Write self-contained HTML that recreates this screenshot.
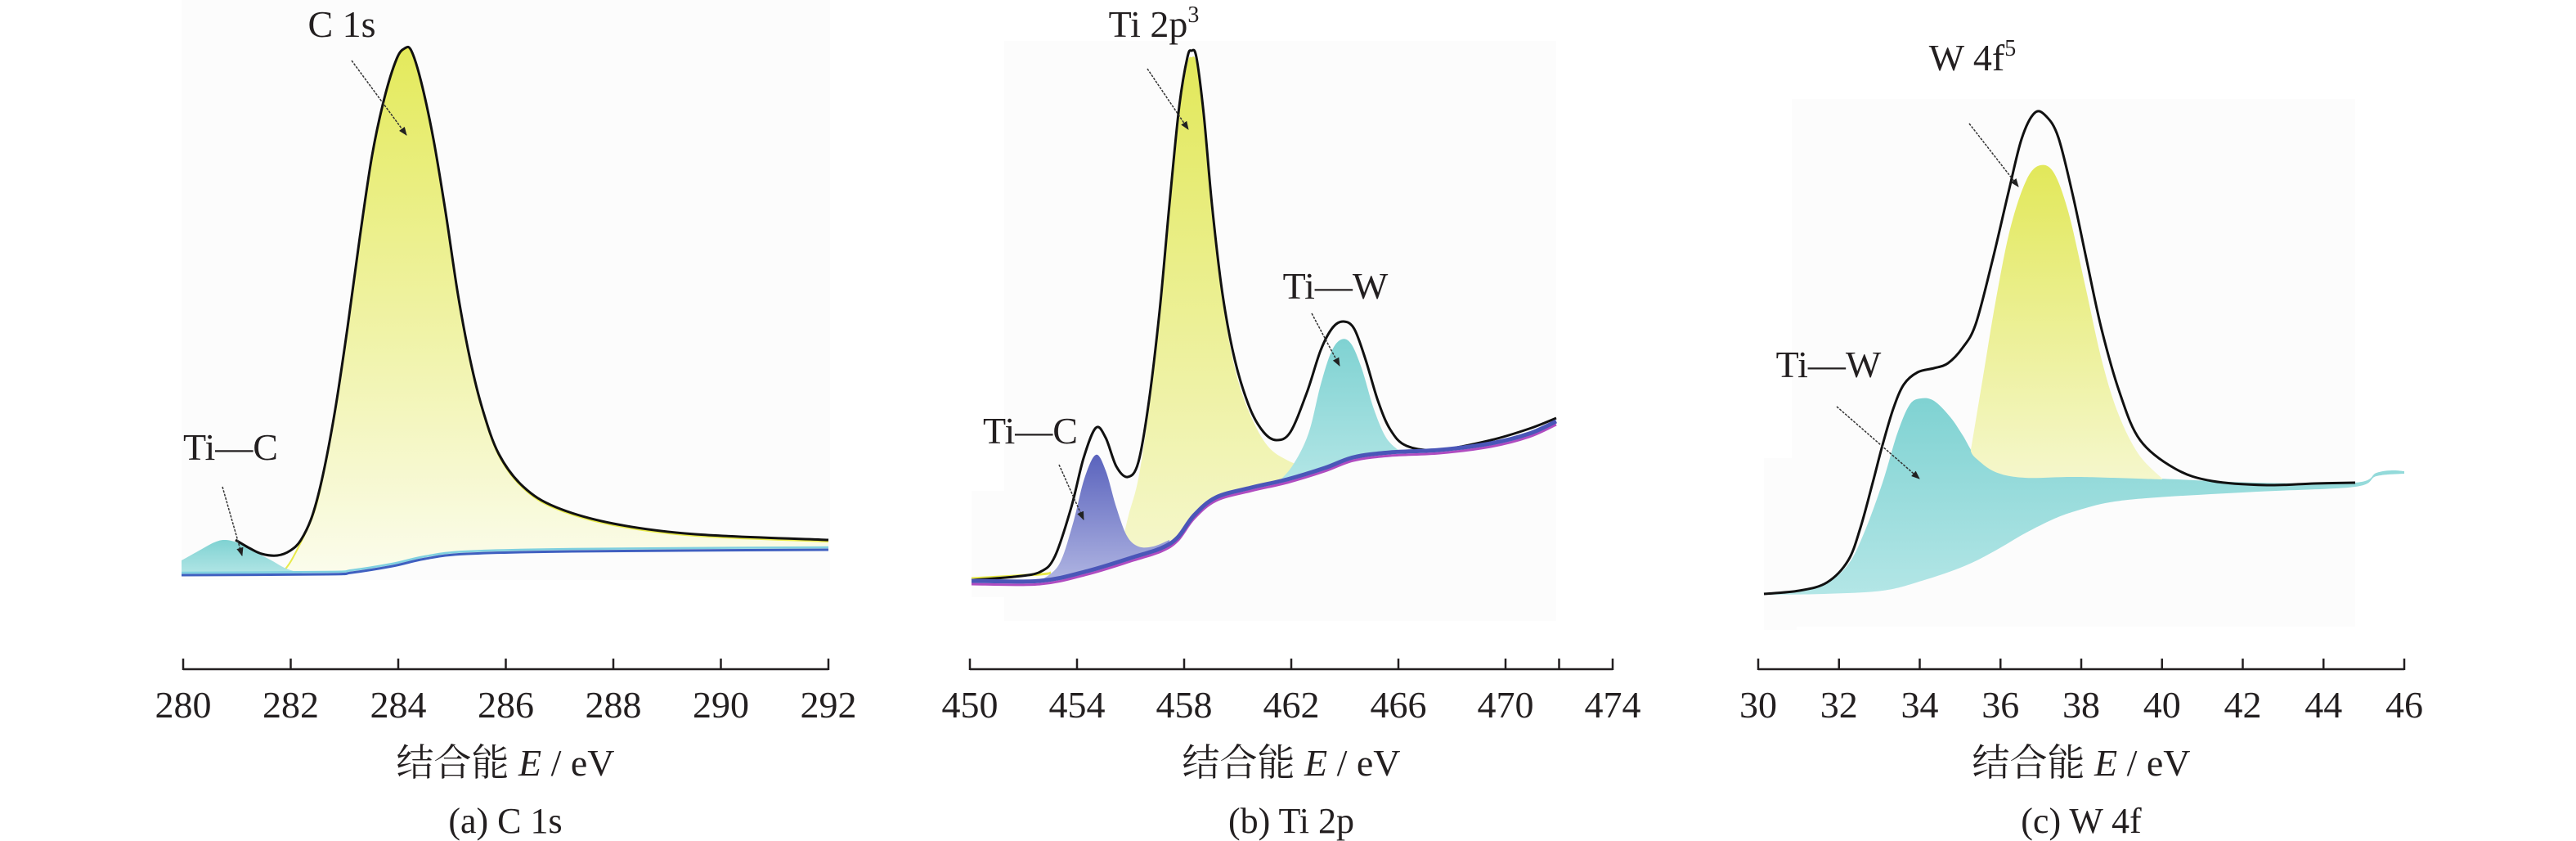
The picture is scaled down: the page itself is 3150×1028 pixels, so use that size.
<!DOCTYPE html>
<html><head><meta charset="utf-8">
<style>
html,body{margin:0;padding:0;background:#fff;}
svg{display:block;}
text{font-family:"Liberation Serif","Noto Serif CJK SC","Noto Sans CJK SC",serif;fill:#231f20;}
</style></head>
<body>
<svg id="s" width="3150" height="1028" viewBox="0 0 3150 1028" xmlns="http://www.w3.org/2000/svg">
<defs>
<linearGradient id="gy" x1="0" y1="0" x2="0" y2="1"><stop offset="0" stop-color="#e4ea5c"/><stop offset="0.55" stop-color="#f0f3a8"/><stop offset="1" stop-color="#fbfcec"/></linearGradient>
<linearGradient id="gy2" x1="0" y1="0" x2="0" y2="1"><stop offset="0" stop-color="#e2e85a"/><stop offset="1" stop-color="#f5f7cc"/></linearGradient>
<linearGradient id="gc" x1="0" y1="0" x2="0" y2="1"><stop offset="0" stop-color="#7fd2d2"/><stop offset="1" stop-color="#b3e6e6"/></linearGradient>
<linearGradient id="gb" x1="0" y1="0" x2="0" y2="1"><stop offset="0" stop-color="#5a63bd"/><stop offset="1" stop-color="#b0b5e2"/></linearGradient>
<marker id="ar" viewBox="0 0 10 10" refX="9" refY="5" markerWidth="7" markerHeight="7" orient="auto"><path d="M0,1 L10,5 L0,9 z" fill="#222"/></marker>
</defs>
<rect x="222" y="0" width="793" height="709" fill="#fcfcfc"/>
<rect x="1228" y="50" width="675" height="709" fill="#fcfcfc"/>
<rect x="1188" y="600" width="60" height="130" fill="#fcfcfc"/>
<rect x="2191" y="121" width="689" height="645" fill="#fcfcfc"/>
<rect x="2157" y="560" width="40" height="210" fill="#fcfcfc"/>
<g id="g"></g>
</svg>
<script>
function cr(p){let d="M"+p[0][0]+","+p[0][1];for(let i=0;i<p.length-1;i++){const p0=p[i-1]||p[i],p1=p[i],p2=p[i+1],p3=p[i+2]||p2;const c1=[p1[0]+(p2[0]-p0[0])/6,p1[1]+(p2[1]-p0[1])/6],c2=[p2[0]-(p3[0]-p1[0])/6,p2[1]-(p3[1]-p1[1])/6];d+=" C"+c1[0].toFixed(1)+","+c1[1].toFixed(1)+" "+c2[0].toFixed(1)+","+c2[1].toFixed(1)+" "+p2[0]+","+p2[1];}return d;}
function area(top,bot){let b=bot.slice().reverse();return cr(top)+" L"+b[0][0]+","+b[0][1]+" "+cr(b).slice(1).replace(/^[^C]*/,"")+" Z";}
let h="";
function path(d,fill,stroke,w){h+='<path d="'+d+'" fill="'+(fill||"none")+'" stroke="'+(stroke||"none")+'" stroke-width="'+(w||0)+'" stroke-linejoin="round"/>';}
function txt(x,y,s,sz,anchor){h+='<text x="'+x+'" y="'+y+'" font-size="'+(sz||46)+'" text-anchor="'+(anchor||"middle")+'">'+s+'</text>';}
function arrow(x1,y1,x2,y2){h+='<line x1="'+x1+'" y1="'+y1+'" x2="'+x2+'" y2="'+y2+'" stroke="#333" stroke-width="1.5" stroke-dasharray="3,1.5" marker-end="url(#ar)"/>';}
function axis(x0,x1,ticks,labels){h+='<line x1="'+x0+'" y1="818" x2="'+x1+'" y2="818" stroke="#231f20" stroke-width="2.5"/>';ticks.forEach(t=>{h+='<line x1="'+t+'" y1="805" x2="'+t+'" y2="819" stroke="#231f20" stroke-width="2.5"/>';});labels.forEach(l=>txt(l[0],877,l[1],46));}
// ---- panel a
let bgA=[[222,703],[400,702],[430,700],[480,692],[520,683],[571,677],[700,674],[1013,672]];
let envA=[[288,660],[305,670],[320,677],[339,679],[355,673],[368,660],[382,630],[395,580],[410,500],[425,400],[440,290],[455,190],[470,120],[485,72],[495,59],[503,62],[515,100],[530,170],[545,260],[560,360],[575,440],[590,500],[610,555],[640,595],[680,620],[750,640],[850,653],[1013,660]];
let yA=[[346,699],[358,682]].concat(envA.slice(6).map(p=>[p[0],p[1]+2]));
path(area(yA,bgA.slice(2)),"url(#gy)");
path(cr(yA),"none","#e8ea4a",2);
let cA=[[222,685],[240,675],[262,663],[276,660],[292,664],[310,674],[330,684],[350,695],[370,701]];
path(area(cA,[[222,703],[300,703],[370,702]]),"url(#gc)");
path(cr(envA),"none","#111",3);
path(cr(bgA.map(p=>[p[0],p[1]-3])),"none","#7fd0e0",2.5);
path(cr(bgA),"none","#3f5fc0",3);
txt(418,45,"C 1s",46);arrow(430,74,497,165);
txt(282,562,"Ti—C",46);arrow(272,595,296,679);
axis(224,1013,[224,355.5,487,618.5,750,881.5,1013],[[224,"280"],[355.5,"282"],[487,"284"],[618.5,"286"],[750,"288"],[881.5,"290"],[1013,"292"]]);
txt(618,948,"结合能 <tspan font-style='italic'>E</tspan> / eV",46);
txt(618,1018,"(a) C 1s",44);
// ---- panel b
let bgB=[[1188,712],[1272,712],[1330,700],[1386,683],[1420,672],[1440,659],[1460,632],[1487,610],[1530,598],[1574,588],[1620,574],[1655,561],[1700,555],[1760,552],[1823,544],[1870,532],[1903,517]];
let envB=[[1188,709],[1240,705],[1272,699],[1290,680],[1310,620],[1325,560],[1340,523],[1352,535],[1365,570],[1379,583],[1392,565],[1405,490],[1418,380],[1430,250],[1442,130],[1452,70],[1457,62],[1463,70],[1472,140],[1482,250],[1495,360],[1510,440],[1528,498],[1545,528],[1561,538],[1578,528],[1598,480],[1615,428],[1630,400],[1643,393],[1656,402],[1670,440],[1685,490],[1700,525],[1720,545],[1760,550],[1823,538],[1870,524],[1903,511]];
let yB=[[1370,672],[1380,630],[1392,585],[1405,500],[1418,390],[1430,260],[1442,140],[1452,78],[1457,70],[1463,78],[1472,148],[1482,258],[1495,368],[1510,450],[1528,505],[1550,545],[1575,563],[1600,572]];
path(area(yB,[[1370,675],[1386,683],[1420,672],[1440,659],[1460,632],[1487,610],[1530,598],[1574,588],[1600,580]]),"url(#gy2)");
path(cr([[1188,707],[1272,702],[1285,700]]),"none","#e8ea4a",3);
let bB=[[1272,710],[1295,690],[1312,640],[1326,585],[1340,556],[1352,575],[1365,620],[1378,655],[1392,668],[1410,668],[1430,660]];
path(area(bB,[[1272,712],[1330,700],[1386,683],[1420,672],[1430,668]]),"url(#gb)");
let cB=[[1560,592],[1580,570],[1600,530],[1615,470],[1628,430],[1640,415],[1652,420],[1665,450],[1680,500],[1695,535],[1712,552]];
path(area(cB,[[1560,592],[1620,574],[1655,561],[1712,554]]),"url(#gc)");
path(cr(envB),"none","#111",3);
path(cr(bgB.map(p=>[p[0],p[1]+2])),"none","#b04cc0",3);
path(cr(bgB.map(p=>[p[0],p[1]-2])),"none","#4a56b8",5);
txt(1411,45,"Ti 2p<tspan font-size='28' dy='-18'>3</tspan>",46);
arrow(1403,84,1453,158);
txt(1633,365,"Ti—W",46);arrow(1604,383,1638,447);
txt(1260,542,"Ti—C",46);arrow(1295,568,1325,635);
axis(1186,1972,[1186,1317,1448,1579,1710,1841,1906.5,1972],[[1186,"450"],[1317,"454"],[1448,"458"],[1579,"462"],[1710,"466"],[1841,"470"],[1972,"474"]]);
txt(1579,948,"结合能 <tspan font-style='italic'>E</tspan> / eV",46);
txt(1579,1018,"(b) Ti 2p",44);
// ---- panel c
let cBot=[[2157,727],[2230,726],[2302,722],[2350,710],[2402,692],[2440,673],[2476,652],[2510,635],[2537,625],[2580,614],[2638,608],[2760,601],[2880,595],[2906,582],[2940,579]];
let cTop=[[2157,726],[2200,722],[2234,712],[2260,690],[2280,650],[2302,590],[2320,530],[2335,495],[2349,487],[2365,490],[2385,510],[2400,532],[2416,558],[2440,576],[2476,583],[2540,582],[2638,585],[2760,590],[2880,590],[2906,578],[2925,575],[2940,576]];
path(area(cTop,cBot),"url(#gc)");
let yC=[[2410,550],[2425,460],[2440,370],[2458,280],[2478,220],[2495,202],[2512,212],[2530,262],[2550,350],[2570,440],[2590,505],[2615,555],[2644,585]];
path(area(yC,[[2410,552],[2416,560],[2440,577],[2476,584],[2540,583],[2644,586]]),"url(#gy2)");
let envC=[[2157,726],[2200,722],[2234,712],[2260,685],[2275,645],[2290,590],[2302,544],[2315,500],[2328,470],[2345,455],[2365,450],[2382,444],[2400,425],[2416,396],[2436,320],[2456,235],[2472,170],[2488,138],[2502,142],[2517,168],[2535,240],[2552,320],[2570,403],[2592,480],[2617,538],[2660,573],[2705,588],[2772,593],[2830,591],[2880,590]];
path(cr(envC),"none","#111",3);
txt(2412,86,"W 4f<tspan font-size='28' dy='-18'>5</tspan>",46);
arrow(2408,151,2468,228);
txt(2236,461,"Ti—W",46);arrow(2246,497,2347,585);
let tc=[];let lb=[];for(let i=0;i<=8;i++){let x=2150+i*98.75;tc.push(x);lb.push([x,String(30+2*i)]);}
axis(2150,2940,tc,lb);
txt(2545,948,"结合能 <tspan font-style='italic'>E</tspan> / eV",46);
txt(2545,1018,"(c) W 4f",44);
document.getElementById("g").innerHTML=h;
</script>
</body></html>
